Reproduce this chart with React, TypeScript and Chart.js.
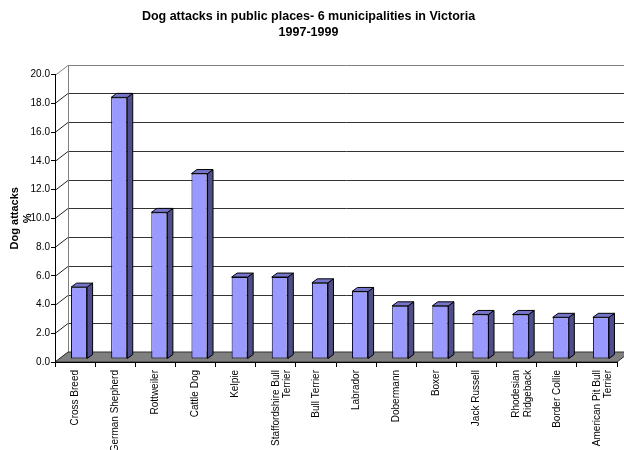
import { useEffect, useRef } from 'react';
import { Chart, registerables } from 'chart.js';

Chart.register(...registerables);

const categories: string[][] = [
  ['Cross Breed'],
  ['German Shepherd'],
  ['Rottweiler'],
  ['Cattle Dog'],
  ['Kelpie'],
  ['Staffordshire Bull', 'Terrier'],
  ['Bull Terrier'],
  ['Labrador'],
  ['Dobermann'],
  ['Boxer'],
  ['Jack Russell'],
  ['Rhodesian', 'Ridgeback'],
  ['Border Collie'],
  ['American Pit Bull', 'Terrier'],
];
const attacksPct = [5.0, 18.2, 10.2, 12.9, 5.7, 5.7, 5.3, 4.7, 3.7, 3.7, 3.1, 3.1, 2.9, 2.9];
const titleLines = ['Dog attacks in public places- 6 municipalities in Victoria', '1997-1999'];
const yTitleLines = ['Dog attacks', '%'];
const yMin = 0;
const yMax = 20;
const yStep = 2;

const FONT = "'Liberation Sans', Arial, Helvetica, sans-serif";
// 3D geometry (visual depth)
const WDX = 13;
const WDY = 10;
const BX = 4;
const BY = 3;
const BDX = 5.5;
const BDY = 4;

const threeD = {
  id: 'threeD',
  beforeDraw(chart: any) {
    const { ctx, chartArea } = chart;
    const { left, right, top, bottom } = chartArea;
    const ys = chart.scales.y;
    const W = chart.width;
    ctx.save();
    ctx.fillStyle = '#ffffff';
    ctx.fillRect(left + WDX, top - WDY, W, bottom - top);
    ys.ticks.forEach((t: any) => {
      const py = ys.getPixelForValue(t.value);
      const by = Math.round(py - WDY) + 0.5;
      const isEdge = t.value === yMin || t.value === yMax;
      ctx.lineWidth = 1;
      ctx.strokeStyle = isEdge ? '#808080' : '#333333';
      if (t.value !== yMin) {
        ctx.beginPath();
        ctx.moveTo(left + WDX, by);
        ctx.lineTo(W + 20, by);
        ctx.stroke();
      }
      ctx.strokeStyle = t.value === yMax ? '#808080' : '#222222';
      ctx.beginPath();
      ctx.moveTo(left, Math.round(py) + 0.5);
      ctx.lineTo(left + WDX, by);
      ctx.stroke();
    });
    ctx.strokeStyle = '#808080';
    ctx.beginPath();
    ctx.moveTo(left + WDX + 0.5, Math.round(top - WDY));
    ctx.lineTo(left + WDX + 0.5, Math.round(bottom - WDY));
    ctx.stroke();
    ctx.fillStyle = '#808080';
    ctx.strokeStyle = '#303030';
    ctx.beginPath();
    ctx.moveTo(left, bottom);
    ctx.lineTo(right, bottom);
    ctx.lineTo(right + WDX, bottom - WDY);
    ctx.lineTo(left + WDX, bottom - WDY);
    ctx.closePath();
    ctx.fill();
    ctx.stroke();
    ctx.restore();
  },
  beforeDatasetDraw(chart: any) {
    chart.ctx.save();
    chart.ctx.translate(BX, -BY);
  },
  afterDatasetDraw(chart: any, args: any) {
    const { ctx } = chart;
    const meta = args.meta;
    ctx.lineWidth = 1;
    ctx.strokeStyle = '#000000';
    meta.data.forEach((el: any) => {
      const { x, y, base, width } = el.getProps(['x', 'y', 'base', 'width'], true);
      const l = x - width / 2;
      const r = x + width / 2;
      const t = Math.min(y, base);
      const b = Math.max(y, base);
      ctx.fillStyle = '#4d4d8f';
      ctx.beginPath();
      ctx.moveTo(r, t);
      ctx.lineTo(r + BDX, t - BDY);
      ctx.lineTo(r + BDX, b - BDY);
      ctx.lineTo(r, b);
      ctx.closePath();
      ctx.fill();
      ctx.stroke();
      ctx.fillStyle = '#7575cc';
      ctx.beginPath();
      ctx.moveTo(l, t);
      ctx.lineTo(l + BDX, t - BDY);
      ctx.lineTo(r + BDX, t - BDY);
      ctx.lineTo(r, t);
      ctx.closePath();
      ctx.fill();
      ctx.stroke();
    });
    ctx.restore();
  },
};

export default function App() {
  const ref = useRef<HTMLCanvasElement | null>(null);
  useEffect(() => {
    document.body.style.margin = '0';
    const canvas = ref.current;
    if (!canvas) return;
    const chart = new Chart(canvas, {
      type: 'bar',
      data: {
        labels: categories,
        datasets: [
          {
            label: 'Dog attacks %',
            data: attacksPct,
            backgroundColor: '#9999ff',
            borderColor: '#000000',
            borderWidth: 1,
            borderSkipped: false,
            barPercentage: 0.4,
            categoryPercentage: 1,
            clip: false as any,
          },
        ],
      },
      options: {
        animation: false,
        responsive: false,
        devicePixelRatio: 1,
        layout: { padding: { left: 0, right: 7, top: 0, bottom: 0 } },
        plugins: {
          legend: { display: false },
          tooltip: { enabled: false },
          title: {
            display: true,
            text: titleLines,
            color: '#000000',
            font: { family: FONT, size: 12.5, weight: 'bold', lineHeight: 1.3 },
            padding: { top: 8, bottom: 34 },
          },
        },
        scales: {
          x: {
            grid: { drawOnChartArea: false, tickLength: 5, color: '#000000', offset: true },
            border: { color: '#000000' },
            ticks: {
              autoSkip: false,
              minRotation: 90,
              maxRotation: 90,
              padding: 3,
              color: '#000000',
              font: { family: FONT, size: 10, lineHeight: 1.15 },
            },
            afterFit: (s: any) => {
              s.height = 88;
            },
          },
          y: {
            min: yMin,
            max: yMax,
            grid: { drawOnChartArea: false, tickLength: 4, color: '#000000' },
            border: { color: '#000000' },
            ticks: {
              stepSize: yStep,
              padding: 1,
              color: '#000000',
              font: { family: FONT, size: 10 },
              callback: (v: any) => Number(v).toFixed(1),
            },
            title: {
              display: true,
              text: yTitleLines,
              color: '#000000',
              font: { family: FONT, size: 11, weight: 'bold', lineHeight: 1.2 },
              padding: { top: 8, bottom: 0 },
            },
            afterFit: (s: any) => {
              s.width = 55;
            },
          },
        },
      },
      plugins: [threeD],
    });
    return () => chart.destroy();
  }, []);
  return <canvas ref={ref} width={624} height={450} style={{ display: 'block' }} />;
}
